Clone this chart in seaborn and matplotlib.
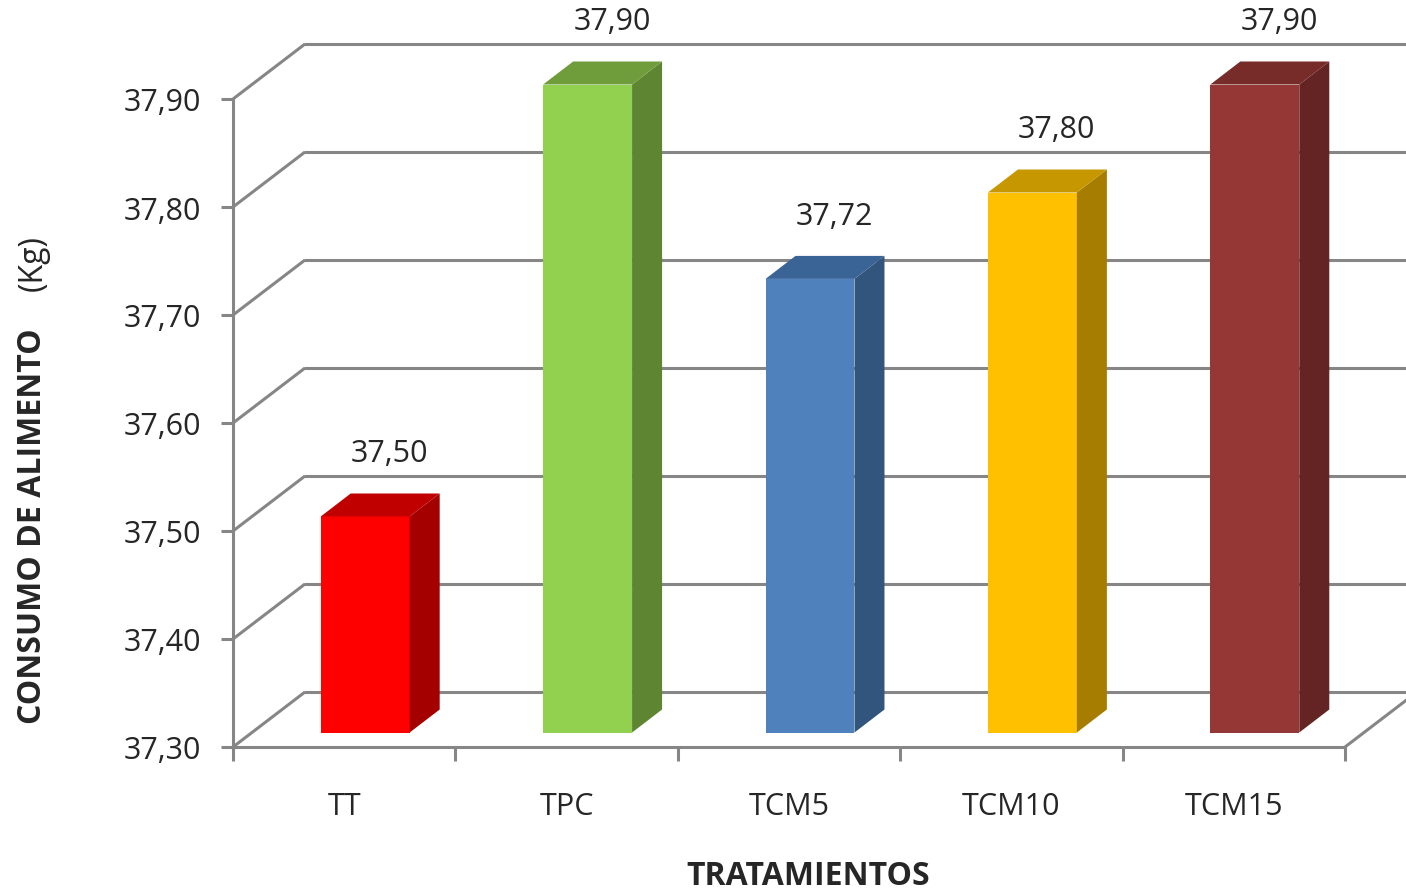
import numpy as np
import pandas as pd
import matplotlib
matplotlib.use('Agg')
import matplotlib.pyplot as plt
from matplotlib.patches import Polygon
import seaborn as sns

# data
tratamientos = ['TT', 'TPC', 'TCM5', 'TCM10', 'TCM15']
consumo = [37.50, 37.90, 37.72, 37.80, 37.90]
y_ticks = [37.30, 37.40, 37.50, 37.60, 37.70, 37.80, 37.90]

# excel-like 3d shading: front / side / top faces
front_colors = ['#FF0000', '#92D050', '#4F81BD', '#FFC000', '#953735']
side_colors = ['#A50000', '#5E8532', '#31557D', '#A67D00', '#632423']
top_colors = ['#C00000', '#6F9D3C', '#3B6496', '#C79700', '#772C2A']

Y_MIN, Y_MAX = 37.30, 37.90
GRID = '#868686'

sns.set_style('white')
plt.rcParams['font.family'] = ['Open Sans', 'DejaVu Sans']

W, H = 1406, 895
fig = plt.figure(figsize=(W / 100, H / 100), dpi=100)
ax = fig.add_axes([233 / W, 147 / H, 1112 / W, 648 / H])

df = pd.DataFrame({'trat': tratamientos, 'consumo': consumo})
sns.barplot(data=df, x='trat', y='consumo', hue='trat', palette=front_colors,
            width=0.4, saturation=1, legend=False, ax=ax)
ax.set_xlim(-0.5, len(tratamientos) - 0.5)
ax.set_ylim(Y_MIN, Y_MAX)

# pixel -> data helpers for the fake depth
px_x = 1112 / len(tratamientos)
px_y = 648 / (Y_MAX - Y_MIN)
def dxy(px, py):
    return px / px_x, py / px_y

back_dx, back_dy = dxy(72, 55)
front_dx, front_dy = dxy(21, 14.5)
side_dx, side_dy = dxy(30, 23)

# back wall + left wall gridlines
x_left, x_right = -0.5, len(tratamientos) - 0.5
for t in y_ticks:
    ax.plot([x_left, x_left + back_dx], [t, t + back_dy], color=GRID, lw=2.2,
            clip_on=False, zorder=1, solid_capstyle='butt')
    ax.plot([x_left + back_dx, x_right + back_dx], [t + back_dy] * 2, color=GRID,
            lw=2.2, clip_on=False, zorder=1)
# floor right edge
ax.plot([x_right, x_right + back_dx], [Y_MIN, Y_MIN + back_dy], color=GRID, lw=2.2,
        clip_on=False, zorder=1)

bars = sorted(ax.patches, key=lambda p: p.get_x())
for bar, c_side, c_top in zip(bars, side_colors, top_colors):
    val = bar.get_height()
    w = bar.get_width()
    x0 = bar.get_x() + front_dx
    y0 = Y_MIN + front_dy
    y1 = val + front_dy
    bar.set_x(x0)
    bar.set_y(y0)
    bar.set_height(val - Y_MIN)
    bar.set_linewidth(0)
    bar.set_clip_on(False)
    bar.set_zorder(4)
    side = Polygon([(x0 + w, y0), (x0 + w + side_dx, y0 + side_dy),
                    (x0 + w + side_dx, y1 + side_dy), (x0 + w, y1)],
                   closed=True, facecolor=c_side, edgecolor='none', zorder=4, clip_on=False)
    top = Polygon([(x0, y1), (x0 + w, y1), (x0 + w + side_dx, y1 + side_dy),
                   (x0 + side_dx, y1 + side_dy)],
                  closed=True, facecolor=c_top, edgecolor='none', zorder=4, clip_on=False)
    ax.add_patch(side)
    ax.add_patch(top)
    ax.annotate(f'{val:.2f}'.replace('.', ','),
                xy=(x0 + w / 2 + side_dx, y1 + side_dy),
                xytext=(-4, 29), textcoords='offset points',
                ha='center', va='center', fontsize=22, annotation_clip=False)

# axes styling
for s in ['top', 'right']:
    ax.spines[s].set_visible(False)
for s in ['left', 'bottom']:
    ax.spines[s].set_color(GRID)
    ax.spines[s].set_linewidth(2.2)

ax.set_yticks(y_ticks)
ax.set_yticklabels([f'{t:.2f}'.replace('.', ',') for t in y_ticks])
ax.tick_params(axis='y', length=9, width=2.2, color=GRID, pad=14,
               labelsize=22, direction='out', left=True)

ax.set_xticks(np.arange(len(tratamientos) + 1) - 0.5)
ax.set_xticklabels([])
ax.set_xticks(np.arange(len(tratamientos)), minor=True)
ax.set_xticklabels(tratamientos, minor=True)
ax.tick_params(axis='x', which='major', length=10, width=2.2, color=GRID,
               direction='out', bottom=True)
ax.tick_params(axis='x', which='minor', length=0, pad=32, labelsize=22)
ax.set_xlabel('')
ax.set_ylabel('')

fig.text(808 / W, 1 - 877 / H, 'TRATAMIENTOS', ha='center', va='center',
         fontsize=23, fontweight='bold')
fig.text(33 / W, 1 - 526 / H, 'CONSUMO DE ALIMENTO', ha='center', va='center',
         rotation=90, fontsize=23, fontweight='bold')
fig.text(33 / W, 1 - 263 / H, '(Kg)', ha='center', va='center',
         rotation=90, fontsize=23)

fig.savefig('out.png', dpi=100)
